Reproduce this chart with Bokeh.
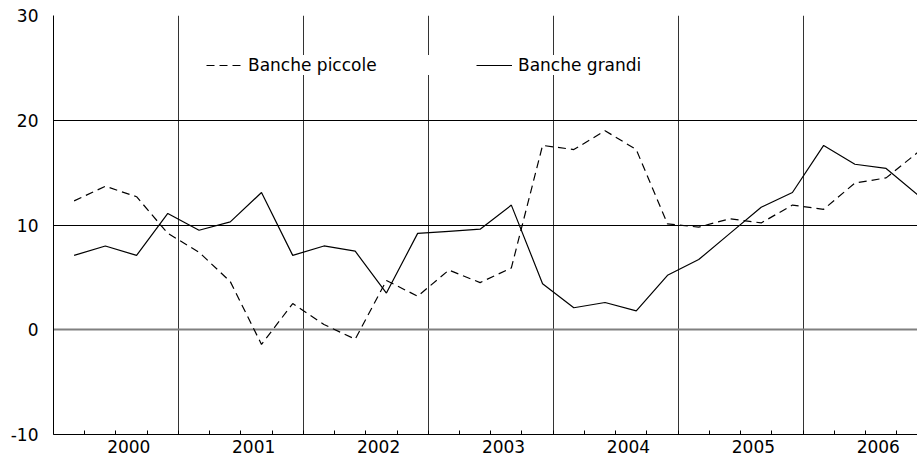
import numpy as np
from bokeh.plotting import figure
from bokeh.models import FixedTicker, Range1d, Grid, Legend, LegendItem
from bokeh.embed import file_html
from bokeh.resources import INLINE

# ---- data (quarterly, 2000Q1 - 2006Q4) ----
years = ["2000", "2001", "2002", "2003", "2004", "2005", "2006"]
quarters_per_year = 4
banche_piccole = [12.3, 13.7, 12.7, 9.2, 7.4, 4.6, -1.4, 2.5,
                  0.5, -0.9, 4.7, 3.2, 5.7, 4.5, 5.9, 17.6,
                  17.2, 19.0, 17.2, 10.1, 9.8, 10.6, 10.2, 11.9,
                  11.5, 14.0, 14.5, 16.9]
banche_grandi = [7.1, 8.0, 7.1, 11.1, 9.5, 10.3, 13.1, 7.1,
                 8.0, 7.5, 3.5, 9.2, 9.4, 9.6, 11.9, 4.4,
                 2.1, 2.6, 1.8, 5.2, 6.7, 9.2, 11.7, 13.1,
                 17.6, 15.8, 15.4, 12.9]
y_ticks = [-10, 0, 10, 20, 30]
y_tick_labels = ["-10", "0", "10", "20", "30"]

# ---- layout constants ----
FONT = "DejaVu Sans"
FS = "17px"
slot_offset = 0.66        # quarter boundary sits this far before each point
label_shift = 2.41        # year label position from the year's first boundary

n = len(banche_grandi)
x = np.arange(n)
boundaries = [float(v) for v in (x - slot_offset)]
year_lines = [boundaries[k * quarters_per_year] for k in range(1, len(years))]
label_pos = [round(boundaries[k * quarters_per_year] + label_shift, 2) for k in range(len(years))]

p = figure(width=917, height=459, output_backend="svg", toolbar_location=None,
           x_range=Range1d(-slot_offset, n - 1 + 0.005), y_range=Range1d(-10, 30),
           min_border_left=53, min_border_right=0, min_border_top=15, min_border_bottom=25)
p.outline_line_color = None
p.background_fill_color = "white"
p.border_fill_color = "white"

# grids
p.xgrid.ticker = FixedTicker(ticks=year_lines)
p.xgrid.grid_line_color = "#333333"
p.xgrid.grid_line_width = 1
p.ygrid.ticker = FixedTicker(ticks=[10, 20])
p.ygrid.grid_line_color = "black"
p.ygrid.grid_line_width = 1
zero_grid = Grid(dimension=1, ticker=FixedTicker(ticks=[0]),
                 grid_line_color="#808080", grid_line_width=2)
top_grid = Grid(dimension=1, ticker=FixedTicker(ticks=[y_ticks[-1]]),
                grid_line_color="#333333", grid_line_width=1.5)
p.add_layout(zero_grid)
p.add_layout(top_grid)

# lines
r_p = p.line(x, banche_piccole, line_color="black", line_width=1.2, line_dash="8 5")
r_g = p.line(x, banche_grandi, line_color="black", line_width=1.2)

# y axis
yax = p.yaxis[0]
yax.ticker = FixedTicker(ticks=y_ticks)
yax.major_label_overrides = {t: s for t, s in zip(y_ticks, y_tick_labels)}
yax.major_tick_in = 0
yax.major_tick_out = 0
yax.minor_tick_in = 0
yax.minor_tick_out = 0
yax.axis_line_color = "black"
yax.major_label_standoff = 15
yax.major_label_text_font = FONT
yax.major_label_text_font_size = FS
yax.major_label_text_color = "black"

# x axis
xax = p.xaxis[0]
xax.ticker = FixedTicker(ticks=label_pos, minor_ticks=boundaries)
xax.major_label_overrides = {pos: yr for pos, yr in zip(label_pos, years)}
xax.major_tick_in = 0
xax.major_tick_out = 0
xax.minor_tick_in = 4
xax.minor_tick_out = 0
xax.minor_tick_line_color = "black"
xax.axis_line_color = "black"
xax.major_label_standoff = 5
xax.major_label_text_font = FONT
xax.major_label_text_font_size = FS
xax.major_label_text_color = "black"

legend = Legend(items=[LegendItem(label="Banche piccole", renderers=[r_p]),
                       LegendItem(label="Banche grandi", renderers=[r_g])],
                orientation="horizontal", location=(153, 359),
                padding=6, spacing=68, label_width=160, glyph_width=36,
                label_standoff=6, background_fill_color="white",
                background_fill_alpha=1.0, border_line_color=None,
                label_text_font=FONT, label_text_font_size=FS,
                label_text_color="black")
p.add_layout(legend)

open("out.html", "w").write(file_html(p, INLINE))
